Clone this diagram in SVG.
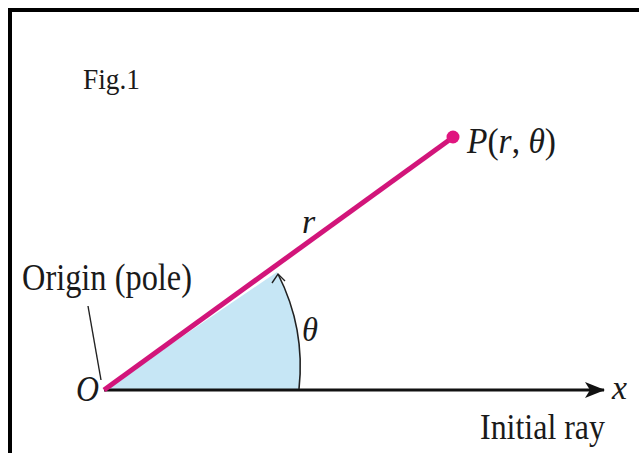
<svg xmlns="http://www.w3.org/2000/svg" width="639" height="453" viewBox="0 0 639 453">
<style>
.t{font-family:"Liberation Serif","Times New Roman",serif;fill:#1a1a1a}
.i{font-style:italic}
</style>
<defs>
<marker id="ah" viewBox="0 0 20 16" refX="19" refY="8" markerWidth="20" markerHeight="16" markerUnits="userSpaceOnUse" orient="auto">
<path d="M0,0 L20,8 L0,16 L5,8 Z" fill="#111"/>
</marker>
</defs>
<rect width="639" height="453" fill="#fff"/>
<path d="M10,453 V10 H639" fill="none" stroke="#000" stroke-width="4"/>
<g id="wedge">
<path d="M104,390 L277,272 A205,205 0 0 1 299,390 Z" fill="#c6e6f5"/>
</g>
<g id="connectors">
<line x1="104" y1="390" x2="604" y2="390" stroke="#111" stroke-width="3" marker-end="url(#ah)"/>
<line x1="104" y1="390" x2="452" y2="138" stroke="#d2157a" stroke-width="5"/>
<path d="M299,389 A205,205 0 0 0 278,274" fill="none" stroke="#222" stroke-width="1.6"/>
<path d="M272,283 L278,274 L285,281" fill="none" stroke="#222" stroke-width="1.4"/>
<line x1="88" y1="306" x2="101" y2="380" stroke="#222" stroke-width="1.4"/>
</g>
<g id="point-P">
<circle cx="453" cy="137" r="6.5" fill="#e0157f"/>
<text class="t" x="467" y="153" font-size="35" textLength="89" lengthAdjust="spacingAndGlyphs"><tspan class="i">P</tspan>(<tspan class="i">r</tspan>, <tspan class="i">θ</tspan>)</text>
</g>
<g id="labels">
<text class="t" x="83" y="89" font-size="30" textLength="57" lengthAdjust="spacingAndGlyphs">Fig.1</text>
<text class="t i" x="302" y="233" font-size="34">r</text>
<text class="t i" x="302" y="341" font-size="33" textLength="16" lengthAdjust="spacingAndGlyphs">θ</text>
<text class="t i" x="76" y="401" font-size="36" textLength="23" lengthAdjust="spacingAndGlyphs">O</text>
<text class="t i" x="612" y="399" font-size="33" textLength="15" lengthAdjust="spacingAndGlyphs">x</text>
<text class="t" x="22" y="290" font-size="37" textLength="170" lengthAdjust="spacingAndGlyphs">Origin (pole)</text>
<text class="t" x="480" y="439" font-size="35" textLength="125" lengthAdjust="spacingAndGlyphs">Initial ray</text>
</g>
</svg>
